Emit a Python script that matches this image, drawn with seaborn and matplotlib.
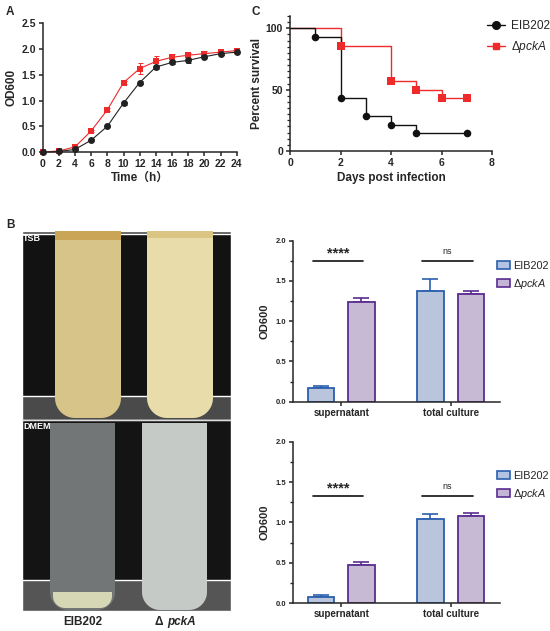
import numpy as np
import pandas as pd
import matplotlib
matplotlib.use("Agg")
import matplotlib.pyplot as plt
from matplotlib.patches import Polygon, Rectangle, Patch
from matplotlib.lines import Line2D
import seaborn as sns

# ---------------- data ----------------
strains = ["EIB202", "ΔpckA"]
time_h = [0, 2, 4, 6, 8, 10, 12, 14, 16, 18, 20, 22, 24]
od_wt = [0.00, 0.01, 0.05, 0.23, 0.50, 0.95, 1.35, 1.65, 1.74, 1.78, 1.85, 1.91, 1.94]
od_wt_err = [0.00, 0.00, 0.01, 0.02, 0.02, 0.03, 0.03, 0.04, 0.03, 0.05, 0.03, 0.02, 0.02]
od_mut = [0.00, 0.02, 0.10, 0.41, 0.82, 1.35, 1.62, 1.76, 1.84, 1.88, 1.91, 1.94, 1.97]
od_mut_err = [0.00, 0.00, 0.01, 0.02, 0.03, 0.03, 0.10, 0.10, 0.06, 0.05, 0.05, 0.02, 0.03]

surv_days = [0, 1, 2, 3, 4, 5, 7]
surv_wt = [100, 92.9, 42.9, 28.6, 21.4, 14.3, 14.3]
surv_mut_days = [0, 2, 4, 5, 6, 7]
surv_mut = [100, 85.7, 57.1, 50.0, 42.9, 42.9]

bar_groups = ["supernatant", "total culture"]
tsb_wt = [0.17, 1.38]
tsb_wt_err = [0.02, 0.15]
tsb_mut = [1.24, 1.34]
tsb_mut_err = [0.05, 0.03]
dmem_wt = [0.08, 1.04]
dmem_wt_err = [0.02, 0.06]
dmem_mut = [0.47, 1.08]
dmem_mut_err = [0.04, 0.03]
sig_labels = ["****", "ns"]

# ---------------- style ----------------
sns.set_style("ticks")
plt.rcParams["font.family"] = ["Liberation Sans", "DejaVu Sans"]
plt.rcParams["mathtext.fontset"] = "custom"
plt.rcParams["mathtext.rm"] = "Liberation Sans"
plt.rcParams["mathtext.it"] = "Liberation Sans:italic"
plt.rcParams["mathtext.bf"] = "Liberation Sans:bold"
plt.rcParams["axes.linewidth"] = 1.1

W, H = 550, 631
fig = plt.figure(figsize=(W / 100, H / 100), dpi=100)

def ax_px(l, t, r, b):
    return fig.add_axes([l / W, 1 - b / H, (r - l) / W, (b - t) / H])

def style_axis(ax, fs):
    for s in ["top", "right"]:
        ax.spines[s].set_visible(False)
    ax.tick_params(axis="both", direction="out", length=3, width=1.1, labelsize=fs, pad=2)
    for lab in ax.get_xticklabels() + ax.get_yticklabels():
        lab.set_fontweight("bold")

BLACK = "#111111"
RED = "#ee2a2a"
mut_lab = "Δ$\\mathit{pckA}$"

# ---------------- panel A ----------------
axA = ax_px(42.7, 23.3, 236.7, 152)
dfA = pd.DataFrame({
    "time": time_h * 2,
    "od": od_wt + od_mut,
    "strain": [strains[0]] * len(time_h) + [strains[1]] * len(time_h),
})
sns.lineplot(data=dfA, x="time", y="od", hue="strain", style="strain",
             hue_order=[strains[1], strains[0]],
             palette={strains[0]: "#222222", strains[1]: RED},
             markers={strains[0]: "o", strains[1]: "s"}, dashes=False,
             markersize=5, linewidth=0.8, markeredgewidth=0, ax=axA,
             legend=False, clip_on=False, zorder=3)
axA.errorbar(time_h, od_mut, yerr=od_mut_err, fmt="none", ecolor=RED,
             elinewidth=0.7, capsize=1.8, capthick=0.7, zorder=2)
axA.errorbar(time_h, od_wt, yerr=od_wt_err, fmt="none", ecolor="#222222",
             elinewidth=0.7, capsize=1.8, capthick=0.7, zorder=2)
axA.set_xlim(0, 24)
axA.set_ylim(0, 2.5)
axA.set_xticks(range(0, 25, 2))
axA.set_yticks([0, 0.5, 1.0, 1.5, 2.0, 2.5])
axA.set_yticklabels(["0.0", "0.5", "1.0", "1.5", "2.0", "2.5"])
axA.set_xlabel("Time（h）", fontsize=8.5, fontweight="bold",
               family=["Liberation Sans", "Noto Sans CJK SC"], labelpad=2)
axA.set_ylabel("OD600", fontsize=8.5, fontweight="bold", labelpad=3)
style_axis(axA, 7.5)

# ---------------- panel C ----------------
axC = ax_px(290, 16, 492, 151)
dfC_line = pd.DataFrame({
    "day": surv_mut_days + surv_days,
    "surv": surv_mut + surv_wt,
    "strain": [strains[1]] * len(surv_mut_days) + [strains[0]] * len(surv_days),
})
sns.lineplot(data=dfC_line[dfC_line.strain == strains[1]], x="day", y="surv",
             color=RED, linewidth=1.0, drawstyle="steps-post", ax=axC,
             legend=False, clip_on=False, zorder=2)
sns.lineplot(data=dfC_line[dfC_line.strain == strains[0]], x="day", y="surv",
             color=BLACK, linewidth=1.0, drawstyle="steps-post", ax=axC,
             legend=False, clip_on=False, zorder=3)
sns.scatterplot(x=surv_mut_days[1:], y=surv_mut[1:], color=RED, marker="s",
                s=26, linewidth=0, ax=axC, zorder=4, clip_on=False)
sns.scatterplot(x=surv_days[1:], y=surv_wt[1:], color=BLACK, marker="o",
                s=30, linewidth=0, ax=axC, zorder=5, clip_on=False)
axC.set_xlim(0, 8)
axC.set_ylim(0, 110)
axC.set_xticks([0, 2, 4, 6, 8])
axC.set_yticks([0, 50, 100])
axC.set_yticks(np.arange(0, 111, 5), minor=True)
axC.tick_params(axis="y", which="minor", length=2, width=0.9)
axC.set_xlabel("Days post infection", fontsize=8.5, fontweight="bold", labelpad=3)
axC.set_ylabel("Percent survival", fontsize=8.5, fontweight="bold", labelpad=2)
style_axis(axC, 7.5)
handlesC = [
    Line2D([0], [0], color=BLACK, marker="o", markersize=5.5, linewidth=1.0),
    Line2D([0], [0], color=RED, marker="s", markersize=5, linewidth=1.0),
]
axC.legend(handlesC, [strains[0], mut_lab], loc="upper left",
           bbox_to_anchor=(487 / W, 1 - 20 / H), bbox_transform=fig.transFigure,
           frameon=False, fontsize=8.6, handlelength=1.5, handletextpad=0.5,
           labelspacing=0.6, borderpad=0, borderaxespad=0)

# ---------------- panel B bars ----------------
FILL = {strains[0]: "#b3c3e3", strains[1]: "#c5b5d9"}
EDGE = {strains[0]: "#2b5fae", strains[1]: "#5a2d90"}

def bar_panel(t, b, wt, wt_err, mut, mut_err, sig_y, leg_top):
    ax = ax_px(293, t, 500, b)
    df = pd.DataFrame({
        "group": bar_groups * 2,
        "value": wt + mut,
        "strain": [strains[0]] * 2 + [strains[1]] * 2,
    })
    sns.barplot(data=df, x="group", y="value", hue="strain", order=bar_groups,
                hue_order=strains, palette=FILL, width=0.74, gap=0.35,
                errorbar=None, ax=ax, legend=False, linewidth=1.3, zorder=2)
    errs = {strains[0]: wt_err, strains[1]: mut_err}
    vals = {strains[0]: wt, strains[1]: mut}
    for cont, st in zip(ax.containers, strains):
        for i, bar in enumerate(cont):
            bar.set_edgecolor(EDGE[st])
            xc = bar.get_x() + bar.get_width() / 2
            ax.errorbar([xc], [vals[st][i]], yerr=[[0], [errs[st][i]]], fmt="none",
                        ecolor=EDGE[st], elinewidth=1.2, capsize=6.0, capthick=1.2,
                        zorder=1)
    for gi, lab in enumerate(sig_labels):
        ax.plot([gi - 0.26, gi + 0.2], [sig_y, sig_y], color=BLACK, lw=1.2)
        if lab == "****":
            ax.text(gi - 0.03, sig_y + 0.0, lab, ha="center", va="bottom",
                    fontsize=10.5, fontweight="bold")
        else:
            ax.text(gi - 0.03, sig_y + 0.06, lab, ha="center", va="bottom",
                    fontsize=6.5)
    ax.set_xlim(-0.44, 1.45)
    ax.set_ylim(0, 2.0)
    ax.set_yticks([0, 0.5, 1.0, 1.5, 2.0])
    ax.set_yticklabels(["0.0", "0.5", "1.0", "1.5", "2.0"])
    ax.set_yticks(np.arange(0, 2.01, 0.25), minor=True)
    ax.tick_params(axis="y", which="minor", length=2, width=1.0)
    ax.set_xlabel("")
    ax.set_ylabel("OD600", fontsize=8, fontweight="bold", labelpad=4)
    style_axis(ax, 5.5)
    ax.tick_params(axis="x", labelsize=7, pad=1.5)
    for lab in ax.get_xticklabels():
        lab.set_fontweight("bold")
    handles = [Patch(facecolor=FILL[s], edgecolor=EDGE[s], linewidth=1.2) for s in strains]
    ax.legend(handles, [strains[0], mut_lab], loc="upper left",
              bbox_to_anchor=(497 / W, 1 - leg_top / H), bbox_transform=fig.transFigure,
              frameon=False, fontsize=7.8, handlelength=1.2, handleheight=0.8,
              handletextpad=0.3, labelspacing=0.55, borderpad=0, borderaxespad=0)
    return ax

bar_panel(240.7, 401.7, tsb_wt, tsb_wt_err, tsb_mut, tsb_mut_err, 1.75, 261)
bar_panel(441.7, 603, dmem_wt, dmem_wt_err, dmem_mut, dmem_mut_err, 1.33, 471)

# ---------------- panel B photo (illustration) ----------------
axP = ax_px(22, 231, 231, 611)
axP.set_xlim(22, 231)
axP.set_ylim(611, 231)
axP.axis("off")

def tube(x0, x1, y0, y1, r, color, z=3, alpha=1.0):
    th = np.linspace(0, np.pi / 2, 24)
    pts = [(x0, y0)] + [(x0 + r - r * np.cos(a), y1 - r + r * np.sin(a)) for a in th] \
        + [(x1 - r + r * np.sin(a), y1 - r + r * np.cos(a)) for a in th] + [(x1, y0)]
    axP.add_patch(Polygon(pts, closed=True, facecolor=color, edgecolor="none",
                          zorder=z, alpha=alpha))

# top half: TSB
axP.add_patch(Rectangle((22, 231), 209, 189, facecolor="#121212", zorder=1))
axP.add_patch(Rectangle((22, 396), 209, 24, facecolor="#4a4a4a", zorder=1))
axP.add_patch(Rectangle((22, 231), 209, 2.5, facecolor="#4a4a4a", zorder=1))
tube(55, 121, 231, 418, 20, "#d6c489", z=3)
tube(55, 121, 231, 240, 0.1, "#c9a050", z=4, alpha=0.85)
tube(147, 213, 231, 418, 20, "#e7dcaa", z=3)
tube(147, 213, 231, 238, 0.1, "#d8c07a", z=4, alpha=0.8)
# bottom half: DMEM
axP.add_patch(Rectangle((22, 420), 209, 191, facecolor="#141414", zorder=1))
axP.add_patch(Rectangle((22, 580), 209, 31, facecolor="#555555", zorder=1))
tube(50, 115, 423, 610, 18, "#727676", z=3)
tube(53, 112, 592, 608, 12, "#e2e2bc", z=4, alpha=0.9)
tube(142, 207, 423, 610, 18, "#c6cac7", z=3)
axP.plot([22, 231], [420, 420], color="#dddddd", lw=0.8, zorder=6)
axP.text(23, 234, "TSB", color="white", fontsize=6.5, fontweight="bold",
         ha="left", va="top", zorder=7)
axP.text(23, 422, "DMEM", color="white", fontsize=6.5, fontweight="bold",
         ha="left", va="top", zorder=7)

fig.text(83 / W, 1 - 622 / H, strains[0], ha="center", va="center",
         fontsize=8.5, fontweight="bold")
fig.text(167 / W, 1 - 622 / H, "Δ ", ha="right", va="center",
         fontsize=8.5, fontweight="bold")
fig.text(167 / W, 1 - 622 / H, "pckA", ha="left", va="center",
         fontsize=8.5, fontweight="bold", fontstyle="italic")

# panel letters
fig.text(6 / W, 1 - 12 / H, "A", fontsize=8.5, fontweight="bold", ha="left", va="center")
fig.text(252 / W, 1 - 12 / H, "C", fontsize=8.5, fontweight="bold", ha="left", va="center")
fig.text(6 / W, 1 - 225 / H, "B", fontsize=8.5, fontweight="bold", ha="left", va="center")

fig.savefig("out.png", dpi=100, facecolor="white")
